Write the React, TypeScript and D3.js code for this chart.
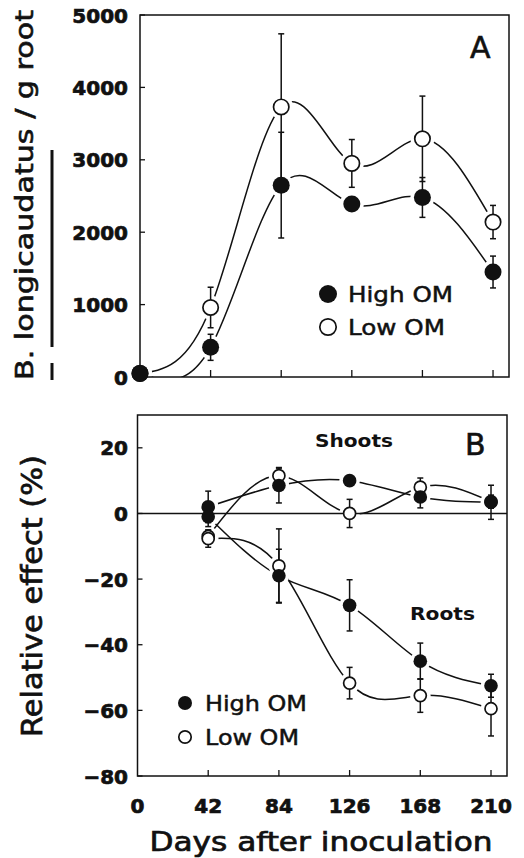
import React from 'react';
import * as d3 from 'd3';

// Panel A: nematode density per g root
const days = [0, 42, 84, 126, 168, 210];
const densityHigh = [50, 410, 2650, 2390, 2480, 1450];
const densityHighSE = [0, 180, 730, 80, 275, 220];
const densityLow = [50, 960, 3730, 2950, 3290, 2140];
const densityLowSE = [0, 280, 1010, 330, 590, 230];
const densityTicks = [0, 1000, 2000, 3000, 4000, 5000];

// Panel B: relative effect (%)
const effectDays = [42, 84, 126, 168, 210];
const shootsHigh = [2, 8.5, 10, 5, 3.4];
const shootsHighSE = [4.8, 5.3, 1, 3.3, 5.2];
const shootsLow = [-7, 11.5, 0, 8, 3.6];
const shootsLowSE = [2, 2.5, 4.3, 2.8, 2];
const rootsHigh = [-1, -19, -28, -45, -52.5];
const rootsHighSE = [3, 8.1, 7.8, 5.5, 3.5];
const rootsLow = [-7.7, -16, -51.7, -55.5, -59.5];
const rootsLowSE = [2.6, 11.3, 4.8, 5.1, 8.3];
const effectTicks = [-80, -60, -40, -20, 0, 20];
const dayTicks = [0, 42, 84, 126, 168, 210];

const FONT = 'DejaVu Sans';
const INK = '#111';

interface Pt { x: number; y: number; e: number; }

const zip = (xs: number[], ys: number[], es: number[]): Pt[] =>
  xs.map((x, i) => ({ x, y: ys[i], e: es[i] }));

interface SeriesProps {
  data: Pt[];
  filled: boolean;
  r: number;
}

function Series({ data, filled, r, x, y, part }: SeriesProps & { x: d3.ScaleLinear<number, number>; y: d3.ScaleLinear<number, number>; part: string }) {
  if (part === 'line') {
    const line = d3.line<Pt>().x(d => x(d.x)).y(d => y(d.y)).curve(d3.curveNatural);
    return <path d={line(data) || ''} fill="none" stroke={INK} strokeWidth={1.5} />;
  }
  if (part === 'halo') {
    return <g>{data.map((d, i) => <circle key={i} cx={x(d.x)} cy={y(d.y)} r={r + 3.5} fill="#fff" />)}</g>;
  }
  if (part === 'err') {
    return (
      <g stroke={INK} strokeWidth={1.5}>
        {data.filter(d => d.e > 0).map((d, i) => {
          const cx = x(d.x);
          const y1 = y(d.y + d.e);
          const y2 = y(d.y - d.e);
          return (
            <g key={i}>
              <line x1={cx} x2={cx} y1={y1} y2={y2} />
              <line x1={cx - 3} x2={cx + 3} y1={y1} y2={y1} />
              <line x1={cx - 3} x2={cx + 3} y1={y2} y2={y2} />
            </g>
          );
        })}
      </g>
    );
  }
  return (
    <g>
      {data.map((d, i) => (
        <circle key={i} cx={x(d.x)} cy={y(d.y)} r={filled ? r : r - 0.8}
          fill={filled ? INK : '#fff'} stroke={INK} strokeWidth={filled ? 0 : 1.7} />
      ))}
    </g>
  );
}

function Legend({ x, y, gap, r, size, width }: { x: number; y: number; gap: number; r: number; size: number; width: number }) {
  return (
    <g fontFamily={FONT} fontSize={size} fill={INK} stroke={INK} strokeWidth={0.5}>
      <circle cx={x} cy={y} r={r} fill={INK} stroke="none" />
      <text x={x + 20} y={y + size * 0.36} textLength={width} lengthAdjust="spacingAndGlyphs">High OM</text>
      <circle cx={x} cy={y + gap} r={r - 0.8} fill="#fff" stroke={INK} strokeWidth={1.7} />
      <text x={x + 20} y={y + gap + size * 0.36} textLength={width - 8} lengthAdjust="spacingAndGlyphs">Low OM</text>
    </g>
  );
}

export default function App() {
  // panel A
  const xA = d3.scaleLinear().domain([0, 219.5]).range([140, 509]);
  const yA = d3.scaleLinear().domain([0, 5000]).range([377, 15]);
  // panel B
  const xB = d3.scaleLinear().domain([0, 219.5]).range([137.5, 507]);
  const yB = d3.scaleLinear().domain([-80, 30]).range([776, 415]);

  const aSeries = [
    { data: zip(days, densityLow, densityLowSE), filled: false },
    { data: zip(days, densityHigh, densityHighSE), filled: true },
  ];
  const bSeries = [
    { data: zip(effectDays, shootsLow, shootsLowSE), filled: false },
    { data: zip(effectDays, rootsLow, rootsLowSE), filled: false },
    { data: zip(effectDays, shootsHigh, shootsHighSE), filled: true },
    { data: zip(effectDays, rootsHigh, rootsHighSE), filled: true },
  ];

  const rA = 8.5;
  const rB = 6.8;
  const [ax0, ax1] = xA.range();
  const [ay0, ay1] = [yA(5000), yA(0)];
  const [bx0, bx1] = xB.range();
  const [by0, by1] = [yB(30), yB(-80)];

  const fmt = (v: number) => (v < 0 ? '\u2212' + Math.abs(v) : String(v));
  const tickText = { fontFamily: FONT, fontWeight: 'bold' as const, fontSize: 20, fill: INK, stroke: INK, strokeWidth: 0.7 };

  return (
    <svg width={524} height={858} style={{ position: 'absolute', left: 0, top: 0, background: '#fff' }}>
      <defs>
        <clipPath id="clipA"><rect x={ax0} y={ay0} width={ax1 - ax0} height={ay1 - ay0} /></clipPath>
      </defs>

      {/* ---- panel A ---- */}
      <g clipPath="url(#clipA)">
        {aSeries.map((s, i) => <Series key={i} {...s} r={rA} x={xA} y={yA} part="line" />)}
      </g>
      {aSeries.map((s, i) => <Series key={i} {...s} r={rA} x={xA} y={yA} part="halo" />)}
      <rect x={ax0} y={ay0} width={ax1 - ax0} height={ay1 - ay0} fill="none" stroke={INK} strokeWidth={1.5} />
      {densityTicks.map(t => (
        <g key={t}>
          <line x1={ax0} x2={ax0 + 5} y1={yA(t)} y2={yA(t)} stroke={INK} strokeWidth={1.3} />
          <text x={128} y={yA(t) + 7.5} textAnchor="end" {...tickText}>{t}</text>
        </g>
      ))}
      {dayTicks.slice(1).map(t => (
        <line key={t} x1={xA(t)} x2={xA(t)} y1={ay1} y2={ay1 - 7} stroke={INK} strokeWidth={1.3} />
      ))}
      {aSeries.map((s, i) => <Series key={i} {...s} r={rA} x={xA} y={yA} part="err" />)}
      {aSeries.map((s, i) => <Series key={i} {...s} r={rA} x={xA} y={yA} part="dots" />)}
      <text x={470} y={58} fontFamily={FONT} fontSize={30} fill={INK} stroke={INK} strokeWidth={0.6}>A</text>
      <Legend x={328} y={294} gap={33} r={9} size={22} width={105} />

      <g transform="translate(33,195) rotate(-90)">
        <text textAnchor="middle" fontFamily={FONT} fontSize={24} fill={INK} stroke={INK} strokeWidth={0.6}
          textLength={370} lengthAdjust="spacingAndGlyphs">
          B. longicaudatus / g root
        </text>
      </g>
      <line x1={52} x2={52} y1={150} y2={347} stroke={INK} strokeWidth={3} />
      <line x1={52} x2={52} y1={363} y2={380} stroke={INK} strokeWidth={3} />

      {/* ---- panel B ---- */}
      {bSeries.map((s, i) => <Series key={i} {...s} r={rB} x={xB} y={yB} part="line" />)}
      {bSeries.map((s, i) => <Series key={i} {...s} r={rB} x={xB} y={yB} part="halo" />)}
      <line x1={bx0} x2={bx1} y1={yB(0)} y2={yB(0)} stroke={INK} strokeWidth={1.5} />
      <rect x={bx0} y={by0} width={bx1 - bx0} height={by1 - by0} fill="none" stroke={INK} strokeWidth={1.5} />
      {effectTicks.map(t => (
        <g key={t}>
          <line x1={bx0} x2={bx0 + 5} y1={yB(t)} y2={yB(t)} stroke={INK} strokeWidth={1.3} />
          <text x={128} y={yB(t) + 7.5} textAnchor="end" {...tickText}>{fmt(t)}</text>
        </g>
      ))}
      {dayTicks.map(t => (
        <g key={t}>
          {t > 0 && <line x1={xB(t)} x2={xB(t)} y1={by1} y2={by1 - 6} stroke={INK} strokeWidth={1.3} />}
          <text x={xB(t)} y={813} textAnchor="middle" {...tickText}>{t}</text>
        </g>
      ))}
      {bSeries.map((s, i) => <Series key={i} {...s} r={rB} x={xB} y={yB} part="err" />)}
      {bSeries.map((s, i) => <Series key={i} {...s} r={rB} x={xB} y={yB} part="dots" />)}
      <text x={465} y={455} fontFamily={FONT} fontSize={30} fill={INK} stroke={INK} strokeWidth={0.6}>B</text>
      <text x={315} y={447} fontFamily={FONT} fontWeight="bold" fontSize={18} fill={INK} textLength={78} lengthAdjust="spacingAndGlyphs">Shoots</text>
      <text x={410} y={620} fontFamily={FONT} fontWeight="bold" fontSize={18} fill={INK} textLength={65} lengthAdjust="spacingAndGlyphs">Roots</text>
      <Legend x={185} y={703} gap={34} r={7} size={22} width={102} />

      <g transform="translate(42,596) rotate(-90)">
        <text textAnchor="middle" fontFamily={FONT} fontSize={29} fill={INK} stroke={INK} strokeWidth={0.7}
          textLength={282} lengthAdjust="spacingAndGlyphs">
          Relative effect (%)
        </text>
      </g>
      <text x={321} y={851} textAnchor="middle" fontFamily={FONT} fontSize={26} fill={INK} stroke={INK} strokeWidth={0.7}
        textLength={343} lengthAdjust="spacingAndGlyphs">
        Days after inoculation
      </text>
    </svg>
  );
}
